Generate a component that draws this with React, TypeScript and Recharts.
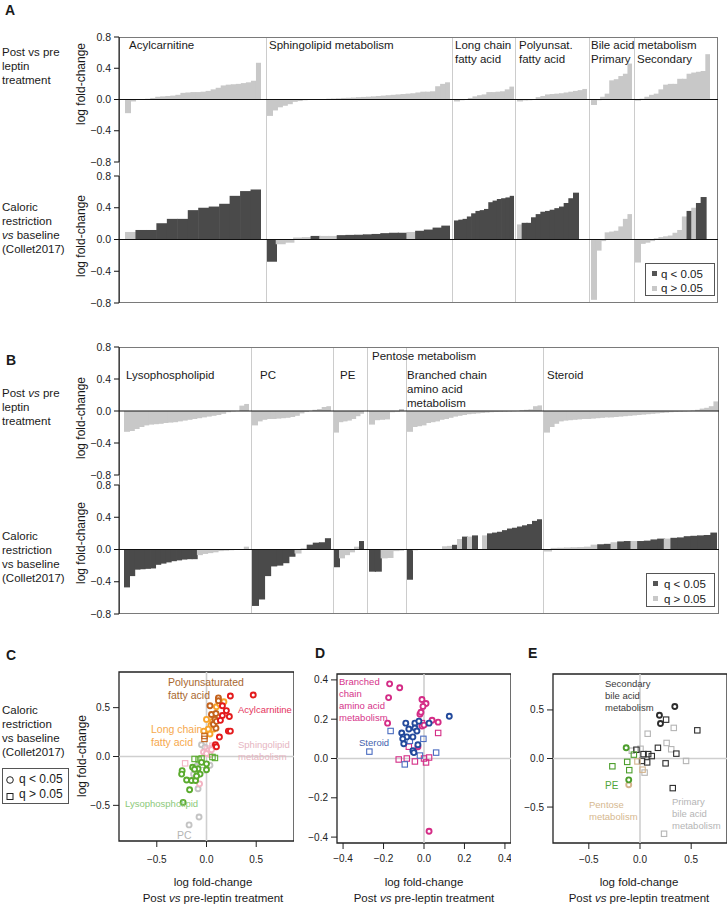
import React from "react";
import {
  BarChart,
  Bar,
  Cell,
  XAxis,
  YAxis,
  ReferenceLine,
  ReferenceArea,
  ScatterChart,
  Scatter,
} from "recharts";

const FONT = '"Liberation Sans", Arial, Helvetica, sans-serif';
const DARK = "#4a4a4a";
const LIGHT = "#c8c8c8";

// ---------- panel A: post vs pre leptin (top row) ----------
const acylLep = [-0.175, -0.025, -0.005, 0.0, 0.01, 0.02, 0.035, 0.04, 0.045, 0.05, 0.06, 0.085, 0.09, 0.095, 0.095, 0.1, 0.11, 0.13, 0.15, 0.18, 0.19, 0.195, 0.2, 0.21, 0.22, 0.24, 0.47];
const sphLep = [-0.21, -0.14, -0.1, -0.08, -0.06, -0.03, -0.02, -0.01, -0.005, 0, 0.003, 0.006, 0.01, 0.012, 0.015, 0.02, 0.022, 0.025, 0.03, 0.033, 0.036, 0.04, 0.045, 0.05, 0.055, 0.06, 0.065, 0.07, 0.075, 0.08, 0.09, 0.1, 0.1, 0.105, 0.17, 0.2, 0.22];
const lcfaLep = [-0.025, -0.01, 0.005, 0.02, 0.04, 0.055, 0.065, 0.095, 0.095, 0.1, 0.105, 0.13, 0.165];
const pufaLep = [-0.025, -0.012, -0.01, -0.005, 0.03, 0.045, 0.065, 0.07, 0.075, 0.08, 0.09, 0.1, 0.11, 0.12, 0.135];
const priLep = [-0.07, -0.01, 0.035, 0.075, 0.245, 0.26, 0.3, 0.33, 0.46];
const secLep = [-0.015, 0.01, 0.035, 0.06, 0.075, 0.13, 0.19, 0.2, 0.2, 0.265, 0.265, 0.33, 0.345, 0.355, 0.365, 0.58];

// ---------- panel A: caloric restriction (bottom row), 1 = q < 0.05 ----------
const acylCR = [0.095, 0.12, 0.12, 0.205, 0.26, 0.26, 0.37, 0.4, 0.415, 0.45, 0.55, 0.61, 0.63];
const acylSig = [0, 1, 1, 1, 1, 1, 1, 1, 1, 1, 1, 1, 1];
const sphCR = [-0.28, -0.06, -0.04, 0.025, 0.03, 0.045, 0.045, 0.045, 0.055, 0.058, 0.06, 0.065, 0.07, 0.08, 0.085, 0.085, 0.095, 0.11, 0.125, 0.15, 0.175];
const sphSig = [1, 0, 0, 0, 0, 1, 0, 0, 1, 1, 1, 1, 1, 1, 1, 1, 0, 1, 1, 1, 1];
const lcfaCR = [0.24, 0.25, 0.26, 0.29, 0.33, 0.36, 0.37, 0.385, 0.47, 0.49, 0.51, 0.52, 0.53, 0.55];
const lcfaSig = [1, 1, 1, 1, 1, 1, 1, 1, 1, 1, 1, 1, 1, 1];
const pufaCR = [0.19, 0.21, 0.21, 0.28, 0.32, 0.35, 0.36, 0.375, 0.395, 0.415, 0.46, 0.52, 0.59, null, null];
const pufaSig = [0, 1, 1, 1, 1, 1, 1, 1, 1, 1, 1, 1, 1, 0, 0];
const priCR = [-0.76, -0.14, -0.02, 0.09, 0.1, 0.11, 0.165, 0.26, 0.32];
const priSig = [0, 0, 0, 0, 0, 0, 0, 0, 0];
const secCR = [-0.29, -0.055, -0.04, -0.02, 0.015, 0.03, 0.04, 0.05, 0.085, 0.12, 0.29, 0.36, 0.4, 0.46, 0.535, null];
const secSig = [0, 0, 0, 0, 0, 0, 0, 0, 0, 0, 0, 1, 0, 1, 1, 0];

// ---------- panel B: post vs pre leptin ----------
const lysoLep = [-0.26, -0.25, -0.225, -0.2, -0.18, -0.17, -0.165, -0.16, -0.15, -0.145, -0.14, -0.13, -0.12, -0.11, -0.1, -0.09, -0.08, -0.07, -0.06, -0.05, -0.035, -0.015, -0.005, 0.0, 0.067, 0.088];
const pcLep = [-0.18, -0.13, -0.11, -0.1, -0.1, -0.095, -0.09, -0.085, -0.075, -0.06, -0.03, -0.01, 0.0, 0.015, 0.025, 0.05, 0.06];
const peLep = [-0.27, -0.14, -0.13, -0.12, -0.1, -0.065, -0.035];
const pentLep = [-0.17, -0.115, -0.11, -0.105, -0.015, -0.01, 0.025];
const bcaaLep = [-0.26, -0.2, -0.19, -0.18, -0.15, -0.14, -0.13, -0.11, -0.1, -0.085, -0.07, -0.06, -0.05, -0.04, -0.035, -0.03, -0.025, -0.02, -0.015, -0.012, -0.01, -0.008, -0.005, -0.003, 0.0, 0.01, 0.015, 0.02, 0.06, 0.07];
const sterLep = [-0.27, -0.2, -0.16, -0.13, -0.12, -0.115, -0.11, -0.105, -0.1, -0.1, -0.095, -0.09, -0.085, -0.08, -0.08, -0.075, -0.07, -0.065, -0.06, -0.055, -0.05, -0.045, -0.04, -0.035, -0.03, -0.025, -0.02, -0.015, -0.01, -0.008, -0.005, -0.002, 0.005, 0.015, 0.03, 0.04, 0.06, 0.12];

// ---------- panel B: caloric restriction ----------
const lysoCR = [-0.47, -0.33, -0.25, -0.245, -0.24, -0.235, -0.19, -0.175, -0.16, -0.145, -0.135, -0.125, -0.12, -0.12, -0.07, -0.055, -0.045, -0.035, -0.02, -0.015, -0.01, -0.005, 0.0, 0.035];
const lysoSig = [1, 1, 1, 1, 1, 1, 1, 1, 1, 1, 1, 1, 1, 1, 0, 0, 0, 0, 0, 0, 0, 0, 0, 0];
const pcCR = [-0.7, -0.62, -0.33, -0.21, -0.2, -0.17, -0.09, -0.05, 0.015, 0.06, 0.085, 0.09, 0.14];
const pcSig = [1, 1, 1, 1, 1, 1, 1, 0, 0, 1, 1, 1, 1];
const peCR = [-0.22, -0.11, -0.07, -0.035, 0.035, 0.105];
const peSig = [1, 0, 0, 0, 0, 1];
const pentCR = [-0.275, -0.275, -0.11, -0.105, -0.02, -0.015];
const pentSig = [1, 1, 0, 0, 0, 0];
const bcaaCR = [-0.375, -0.01, -0.005, 0.0, 0.0, 0.003, 0.005, 0.04, 0.045, 0.058, 0.13, 0.16, 0.16, 0.175, null, 0.175, 0.2, 0.21, 0.22, 0.24, 0.26, 0.27, 0.285, 0.3, 0.315, 0.355, 0.375];
const bcaaSig = [1, 0, 0, 0, 0, 0, 0, 0, 0, 1, 0, 1, 0, 1, 0, 0, 1, 1, 1, 1, 1, 1, 1, 1, 1, 1, 1];
const sterCR = [-0.025, 0.02, 0.022, 0.025, 0.028, 0.03, 0.035, 0.06, 0.065, 0.07, 0.09, 0.1, 0.105, 0.105, 0.105, 0.11, 0.125, 0.135, 0.135, 0.145, 0.15, 0.165, 0.17, 0.175, 0.18, 0.21];
const sterSig = [0, 0, 0, 0, 0, 0, 0, 0, 1, 1, 0, 1, 1, 0, 1, 1, 1, 1, 0, 1, 1, 1, 1, 1, 1, 1];

// ---------- panel C scatter: [post vs pre leptin, caloric restriction] ----------
const cAcylO = [[0.47, 0.63], [0.24, 0.62], [0.2, 0.47], [0.16, 0.42], [0.23, 0.41], [0.14, 0.37], [0.22, 0.26], [0.24, 0.26], [0.13, 0.2], [0.09, 0.12], [0.1, 0.1], [0.16, 0.52]];
const cPufaO = [[0.12, 0.6], [0.12, 0.57], [0.035, 0.52], [0.05, 0.43], [0.095, 0.44], [0.085, 0.38], [0.095, 0.29], [0.07, 0.33], [0.1, 0.36]];
const cPufaS = [[-0.02, 0.21], [-0.02, 0.18]];
const cLcfaO = [[0.175, 0.56], [0.1, 0.51], [0.0, 0.38], [0.045, 0.32], [0.017, 0.28], [-0.027, 0.26], [0.07, 0.28], [0.035, 0.23], [0.06, 0.36], [0.13, 0.54]];
const cSphO = [[0.07, 0.095], [0.02, 0.06], [-0.03, 0.045], [0.035, 0.02], [0.05, 0.07], [0.0, 0.03], [-0.07, -0.28]];
const cSphS = [[-0.215, -0.07], [0.01, 0.08], [0.06, 0.11]];
const cLysoO = [[-0.245, -0.145], [-0.25, -0.18], [-0.2, -0.24], [-0.15, -0.245], [-0.11, -0.245], [-0.17, -0.34], [-0.235, -0.47], [-0.14, -0.11], [-0.085, -0.125], [-0.05, -0.06], [0.0, -0.075], [0.0, -0.135], [-0.065, -0.18], [-0.12, -0.13], [-0.1, -0.2]];
const cLysoS = [[0.085, -0.015], [0.06, -0.005], [-0.12, -0.025], [-0.05, -0.02], [-0.08, -0.03]];
const cPcO = [[-0.175, -0.7], [-0.075, -0.62], [-0.085, -0.33], [0.035, -0.09], [-0.13, -0.18], [-0.05, 0.12], [-0.015, 0.095], [-0.1, -0.1]];
const cPcS = [[-0.035, -0.14]];

// ---------- panel D ----------
const dBcaaO = [[-0.17, 0.38], [-0.12, 0.36], [-0.175, 0.31], [-0.18, 0.18], [-0.01, 0.3], [0.01, 0.28], [-0.005, 0.265], [-0.02, 0.225], [-0.015, 0.235], [0.04, 0.195], [0.07, 0.185], [-0.01, 0.165], [0.0, 0.17], [-0.03, 0.06], [0.025, -0.37]];
const dBcaaS = [[0.07, 0.13], [-0.125, -0.005], [-0.085, 0.0], [-0.045, -0.015], [0.0, 0.0], [0.025, 0.005], [0.01, -0.02], [-0.075, 0.06], [-0.01, 0.18]];
const dSterO = [[0.125, 0.215], [0.025, 0.18], [-0.09, 0.18], [-0.045, 0.18], [-0.025, 0.19], [-0.075, 0.15], [-0.045, 0.155], [-0.11, 0.13], [-0.035, 0.14], [-0.1, 0.11], [-0.085, 0.11], [-0.105, 0.1], [-0.055, 0.11], [-0.1, 0.075], [-0.03, 0.07], [-0.055, 0.04], [-0.05, 0.03]];
const dSterS = [[-0.165, 0.14], [-0.27, 0.035], [-0.003, 0.1], [0.06, 0.03], [-0.02, 0.015], [-0.095, -0.03], [-0.07, 0.09], [-0.05, 0.035]];

// ---------- panel E ----------
const eSecO = [[0.34, 0.535], [0.19, 0.445], [0.2, 0.36]];
const eSecS = [[0.255, 0.4], [0.56, 0.29], [0.175, 0.11], [-0.035, 0.09], [0.035, 0.045], [0.08, 0.045], [0.115, 0.025], [0.355, 0.05], [0.02, -0.025], [0.07, -0.04], [0.25, -0.05], [0.32, -0.305]];
const ePriS = [[0.33, 0.315], [0.075, 0.255], [0.26, 0.16], [0.305, 0.095], [0.005, 0.1], [-0.08, 0.08], [0.45, -0.025], [0.045, -0.145], [0.235, -0.775]];
const ePeO = [[-0.135, 0.11], [-0.11, -0.22]];
const ePeS = [[-0.06, 0.04], [-0.125, -0.035], [-0.27, -0.08], [-0.105, -0.12]];
const ePenO = [[-0.11, -0.27]];
const ePenS = [[-0.025, -0.03], [0.025, -0.115]];

const fmt = (v: number) => (v < -1e-9 ? "\u2212" : "") + Math.abs(v).toFixed(1);

function Txt({ x, y, lines, fs = 11.5, lh = 14, color = "#1a1a1a", bold = false, center = false }: any) {
  return (
    <div
      style={{
        position: "absolute",
        left: x,
        top: y - lh / 2 - 0.3465 * fs,
        fontSize: fs,
        lineHeight: lh + "px",
        color,
        fontWeight: bold ? "bold" : "normal",
        whiteSpace: "nowrap",
        textAlign: center ? "center" : "left",
        transform: center ? "translateX(-50%)" : undefined,
      }}
    >
      {lines.map((l: any, i: number) => (
        <div key={i}>{l}</div>
      ))}
    </div>
  );
}

function YLab({ cx, cy }: any) {
  return (
    <div
      style={{
        position: "absolute",
        left: cx,
        top: cy,
        fontSize: 12,
        lineHeight: "14px",
        whiteSpace: "nowrap",
        color: "#1a1a1a",
        transform: "translate(-50%,-50%) rotate(-90deg)",
      }}
    >
      log fold-change
    </div>
  );
}

const barShape = (p: any) => {
  if (p.height == null || !isFinite(p.height) || p.value == null) return <g />;
  const y = p.height < 0 ? p.y + p.height : p.y;
  return <rect x={p.x} y={y} width={p.width + 1} height={Math.abs(p.height)} fill={p.fill} />;
};

function BarGroup({ vals, sig, x0, x1, top, h }: any) {
  const data = vals.map((v: any, i: number) => ({ k: i, v, s: sig ? sig[i] : 0 }));
  return (
    <div style={{ position: "absolute", left: x0, top }}>
      <BarChart width={x1 - x0} height={h} data={data} margin={{ top: 0, right: 0, bottom: 0, left: 0 }} barCategoryGap={0} barGap={0}>
        <XAxis dataKey="k" hide />
        <YAxis domain={[-0.8, 0.8]} hide allowDataOverflow />
        <Bar dataKey="v" isAnimationActive={false} shape={barShape}>
          {data.map((d: any, i: number) => (
            <Cell key={i} fill={d.s ? DARK : LIGHT} />
          ))}
        </Bar>
      </BarChart>
    </div>
  );
}

// y axis + zero line of one bar row; padded so the end tick labels are not clipped
function AxisRow({ top, h, left, right }: any) {
  const pad = 8;
  return (
    <div style={{ position: "absolute", left: left - 40, top: top - pad }}>
      <BarChart width={right - left + 40} height={h + 2 * pad} data={[{ k: 0, v: 0 }]} margin={{ top: pad, right: 0, bottom: pad, left: 0 }}>
        <XAxis dataKey="k" hide />
        <YAxis
          width={40}
          domain={[-0.8, 0.8]}
          ticks={[-0.8, -0.4, 0, 0.4, 0.8]}
          interval={0}
          allowDataOverflow
          tickFormatter={fmt}
          tickSize={5}
          tickMargin={3}
          axisLine={{ stroke: "#111" }}
          tickLine={{ stroke: "#111" }}
          tick={{ fontSize: 10.5, fill: "#222", fontFamily: FONT }}
        />
        <Bar dataKey="v" fill="none" isAnimationActive={false} />
        <ReferenceLine y={0} stroke="#111" strokeWidth={1} />
      </BarChart>
    </div>
  );
}

function Frame({ left, top, right, bottom, seps }: any) {
  return (
    <>
      {seps.map((s: number, i: number) => (
        <div key={i} style={{ position: "absolute", left: s, top, width: 1, height: bottom - top, background: "#cccccc" }} />
      ))}
      <div
        style={{
          position: "absolute",
          left,
          top,
          width: right - left,
          height: bottom - top,
          border: "1px solid #7a7a7a",
          boxSizing: "border-box",
        }}
      />
    </>
  );
}

function BarLegend({ x, y, w, h, tx }: any) {
  const row = (c: string, label: string, cy: number) => (
    <>
      <div style={{ position: "absolute", left: x + 7, top: cy - 2.5, width: 5, height: 5, background: c }} />
      <div style={{ position: "absolute", left: tx, top: cy - 7, fontSize: 11.5, lineHeight: "14px", whiteSpace: "nowrap" }}>{label}</div>
    </>
  );
  return (
    <>
      <div style={{ position: "absolute", left: x, top: y, width: w, height: h, border: "1px solid #555", boxSizing: "border-box", background: "#fff" }} />
      {row("#555", "q < 0.05", y + h * 0.32)}
      {row(LIGHT, "q > 0.05", y + h * 0.76)}
    </>
  );
}

const ring = (c: string) => (p: any) => <circle cx={p.cx} cy={p.cy} r={2.5} fill="#fff" stroke={c} strokeWidth={1.9} />;
const box = (c: string) => (p: any) => (
  <rect x={p.cx - 2.7} y={p.cy - 2.7} width={5.4} height={5.4} fill="none" stroke={c} strokeWidth={1.1} />
);

function ScatterPanel({ bx, by, bw, bh, xd, yd, ticks, xm, series }: any) {
  const W = 40;
  return (
    <div style={{ position: "absolute", left: bx - W, top: by - 8 }}>
      <ScatterChart width={bw + W} height={bh + 34} margin={{ top: 8, right: 0, bottom: 0, left: 0 }}>
        <XAxis
          type="number"
          dataKey="x"
          domain={xd}
          ticks={ticks}
          interval={0}
          allowDataOverflow
          height={26}
          tickSize={6}
          tickMargin={xm}
          axisLine={false}
          tickLine={{ stroke: "#222" }}
          tickFormatter={fmt}
          tick={{ fontSize: 10, fill: "#222", fontFamily: FONT }}
        />
        <YAxis
          type="number"
          dataKey="y"
          domain={yd}
          ticks={ticks}
          interval={0}
          allowDataOverflow
          width={W}
          tickSize={6}
          tickMargin={3}
          axisLine={false}
          tickLine={{ stroke: "#222" }}
          tickFormatter={fmt}
          tick={{ fontSize: 10, fill: "#222", fontFamily: FONT }}
        />
        <ReferenceLine x={0} stroke="#cfcfcf" strokeWidth={1.6} />
        <ReferenceLine y={0} stroke="#cfcfcf" strokeWidth={1.6} />
        {series.map((s: any, i: number) => (
          <Scatter
            key={i}
            data={s.pts.map((p: number[]) => ({ x: p[0], y: p[1] }))}
            isAnimationActive={false}
            shape={s.sq ? box(s.c) : ring(s.c)}
          />
        ))}
        <ReferenceArea x1={xd[0]} x2={xd[1]} y1={yd[0]} y2={yd[1]} fill="none" stroke="#222" strokeWidth={1.3} ifOverflow="visible" />
      </ScatterChart>
    </div>
  );
}

const xTitle = ["log fold-change", <>Post <i>vs</i> pre-leptin treatment</>];

export default function App() {
  const aTop = { top: 37, h: 125 };
  const aBot = { top: 176, h: 127 };
  const bTop = { top: 347, h: 128 };
  const bBot = { top: 485, h: 129 };

  const groupsA = [
    { lep: acylLep, cr: acylCR, sig: acylSig, x0: 125, x1: 261 },
    { lep: sphLep, cr: sphCR, sig: sphSig, x0: 267, x1: 450 },
    { lep: lcfaLep, cr: lcfaCR, sig: lcfaSig, x0: 454, x1: 514 },
    { lep: pufaLep, cr: pufaCR, sig: pufaSig, x0: 517, x1: 587 },
    { lep: priLep, cr: priCR, sig: priSig, x0: 591, x1: 632 },
    { lep: secLep, cr: secCR, sig: secSig, x0: 635, x1: 710 },
  ];
  const groupsB = [
    { lep: lysoLep, cr: lysoCR, sig: lysoSig, x0: 124, x1: 249 },
    { lep: pcLep, cr: pcCR, sig: pcSig, x0: 252, x1: 331 },
    { lep: peLep, cr: peCR, sig: peSig, x0: 334, x1: 364 },
    { lep: pentLep, cr: pentCR, sig: pentSig, x0: 369, x1: 404 },
    { lep: bcaaLep, cr: bcaaCR, sig: bcaaSig, x0: 407, x1: 542 },
    { lep: sterLep, cr: sterCR, sig: sterSig, x0: 544, x1: 718 },
  ];

  const cSeries = [
    { pts: cPcS, c: "#c4c4c4", sq: true },
    { pts: cPcO, c: "#c4c4c4" },
    { pts: cSphS, c: "#f3b4c3", sq: true },
    { pts: cSphO, c: "#f3b4c3" },
    { pts: cLysoS, c: "#5aab2e", sq: true },
    { pts: cLysoO, c: "#5aab2e" },
    { pts: cLcfaO, c: "#f8a42c" },
    { pts: cPufaS, c: "#c4621b", sq: true },
    { pts: cPufaO, c: "#c4621b" },
    { pts: cAcylO, c: "#e31a1c" },
  ];
  const dSeries = [
    { pts: dBcaaS, c: "#d42c86", sq: true },
    { pts: dSterS, c: "#4a6cc0", sq: true },
    { pts: dBcaaO, c: "#d42c86" },
    { pts: dSterO, c: "#234a9c" },
  ];
  const eSeries = [
    { pts: ePriS, c: "#b5b5b5", sq: true },
    { pts: eSecS, c: "#2e2e2e", sq: true },
    { pts: ePenS, c: "#d3b48d", sq: true },
    { pts: ePeS, c: "#4c9e2c", sq: true },
    { pts: ePenO, c: "#d3b48d" },
    { pts: ePeO, c: "#4c9e2c" },
    { pts: eSecO, c: "#2e2e2e" },
  ];

  return (
    <div
      style={{
        position: "absolute",
        left: 0,
        top: 0,
        width: 728,
        height: 907,
        background: "#fff",
        overflow: "hidden",
        fontFamily: FONT,
        color: "#1a1a1a",
      }}
    >
      {/* ---------------- A ---------------- */}
      <Txt x={5} y={15} lines={["A"]} fs={14} bold />
      <Frame left={119} top={37} right={718} bottom={303} seps={[266, 452, 515, 589, 634]} />
      {groupsA.map((g, i) => (
        <BarGroup key={"at" + i} vals={g.lep} x0={g.x0} x1={g.x1} top={aTop.top} h={aTop.h} />
      ))}
      {groupsA.map((g, i) => (
        <BarGroup key={"ab" + i} vals={g.cr} sig={g.sig} x0={g.x0} x1={g.x1} top={aBot.top} h={aBot.h} />
      ))}
      <AxisRow top={aTop.top} h={aTop.h} left={119} right={718} />
      <AxisRow top={aBot.top} h={aBot.h} left={119} right={718} />
      <YLab cx={81} cy={84} />
      <YLab cx={81} cy={236} />
      <Txt x={2} y={56} lines={["Post vs pre", "leptin", "treatment"]} />
      <Txt x={2} y={211} lines={["Caloric", "restriction", <><i>vs</i> baseline</>, "(Collet2017)"]} />
      <Txt x={129} y={49} lines={["Acylcarnitine"]} />
      <Txt x={269} y={49} lines={["Sphingolipid metabolism"]} />
      <Txt x={455} y={49} lines={["Long chain", "fatty acid"]} />
      <Txt x={519} y={49} lines={["Polyunsat.", "fatty acid"]} />
      <Txt x={591} y={49} lines={["Bile acid metabolism", "Primary"]} />
      <Txt x={637} y={63} lines={["Secondary"]} />
      <BarLegend x={645} y={263} w={70} h={33} tx={661} />

      {/* ---------------- B ---------------- */}
      <Txt x={6} y={365} lines={["B"]} fs={14} bold />
      <Frame left={119} top={347} right={719} bottom={614} seps={[251, 333, 367, 406, 543]} />
      {groupsB.map((g, i) => (
        <BarGroup key={"bt" + i} vals={g.lep} x0={g.x0} x1={g.x1} top={bTop.top} h={bTop.h} />
      ))}
      {groupsB.map((g, i) => (
        <BarGroup key={"bb" + i} vals={g.cr} sig={g.sig} x0={g.x0} x1={i === 5 ? 717 : g.x1} top={bBot.top} h={bBot.h} />
      ))}
      <AxisRow top={bTop.top} h={bTop.h} left={119} right={719} />
      <AxisRow top={bBot.top} h={bBot.h} left={119} right={719} />
      <YLab cx={81} cy={418} />
      <YLab cx={81} cy={543} />
      <Txt x={2} y={397} lines={[<>Post <i>vs</i> pre</>, "leptin", "treatment"]} />
      <Txt x={2} y={540} lines={["Caloric", "restriction", "vs baseline", "(Collet2017)"]} />
      <Txt x={126} y={379} lines={["Lysophospholipid"]} />
      <Txt x={260} y={379} lines={["PC"]} />
      <Txt x={340} y={379} lines={["PE"]} />
      <Txt x={372} y={360} lines={["Pentose metabolism"]} />
      <Txt x={407} y={379} lines={["Branched chain", "amino acid", "metabolism"]} />
      <Txt x={547} y={379} lines={["Steroid"]} />
      <BarLegend x={646} y={573} w={69} h={34} tx={664} />

      {/* ---------------- C ---------------- */}
      <Txt x={6} y={660} lines={["C"]} fs={14} bold />
      <ScatterPanel bx={119} by={672} bw={175} bh={169} xd={[-0.88, 0.88]} yd={[-0.865, 0.865]} ticks={[-0.5, 0, 0.5]} xm={9} series={cSeries} />
      <YLab cx={82} cy={756} />
      <Txt x={2} y={714} lines={["Caloric", "restriction", "vs baseline", "(Collet2017)"]} />
      <div style={{ position: "absolute", left: 2, top: 768, width: 67, height: 36, border: "1px solid #555", boxSizing: "border-box" }} />
      <svg style={{ position: "absolute", left: 0, top: 768 }} width={20} height={36}>
        <circle cx={10} cy={12} r={3.3} fill="none" stroke="#222" strokeWidth={1} />
        <rect x={7} y={25.5} width={6} height={6} fill="none" stroke="#222" strokeWidth={1} />
      </svg>
      <Txt x={19} y={784} lines={["q < 0.05", "q > 0.05"]} fs={12} lh={15} />
      <Txt x={168} y={686} lines={["Polyunsaturated", "fatty acid"]} fs={10.5} lh={13.5} color="#a9672e" />
      <Txt x={238} y={713} lines={["Acylcarnitine"]} fs={9.5} color="#e5335c" />
      <Txt x={151} y={733} lines={["Long chain", "fatty acid"]} fs={10.5} lh={13.5} color="#f6a84c" />
      <Txt x={238} y={748} lines={["Sphingolipid", "metabolism"]} fs={9.5} lh={12} color="#e6b5c1" />
      <Txt x={125} y={807} lines={["Lysophospholipid"]} fs={9.5} color="#8cc97a" />
      <Txt x={177} y={839} lines={["PC"]} fs={10.5} color="#b5b5b5" />
      <Txt x={213} y={886} lines={xTitle} fs={11.5} lh={16} center />

      {/* ---------------- D ---------------- */}
      <Txt x={315} y={658} lines={["D"]} fs={14} bold />
      <ScatterPanel bx={337} by={674} bw={174} bh={169} xd={[-0.43, 0.43]} yd={[-0.43, 0.43]} ticks={[-0.4, -0.2, 0, 0.2, 0.4]} xm={6} series={dSeries} />
      <Txt x={339} y={685} lines={["Branched", "chain", "amino acid", "metabolism"]} fs={9.5} lh={12} color="#d6338a" />
      <Txt x={359} y={746} lines={["Steroid"]} fs={9.5} color="#3f62ad" />
      <Txt x={424} y={886} lines={xTitle} fs={11.5} lh={16} center />

      {/* ---------------- E ---------------- */}
      <Txt x={528} y={658} lines={["E"]} fs={14} bold />
      <ScatterPanel bx={553} by={674} bw={174} bh={169} xd={[-0.85, 0.85]} yd={[-0.87, 0.87]} ticks={[-0.5, 0, 0.5]} xm={7} series={eSeries} />
      <Txt x={605} y={687} lines={["Secondary", "bile acid", "metabolism"]} fs={9.5} lh={12} color="#3a3a3a" />
      <Txt x={605} y={789} lines={["PE"]} fs={10} color="#4fa43a" />
      <Txt x={589} y={808} lines={["Pentose", "metabolism"]} fs={9.5} lh={12} color="#d6b88f" />
      <Txt x={672} y={805} lines={["Primary", "bile acid", "metabolism"]} fs={9.5} lh={12} color="#b5b5b5" />
      <Txt x={639} y={886} lines={xTitle} fs={11.5} lh={16} center />
    </div>
  );
}
